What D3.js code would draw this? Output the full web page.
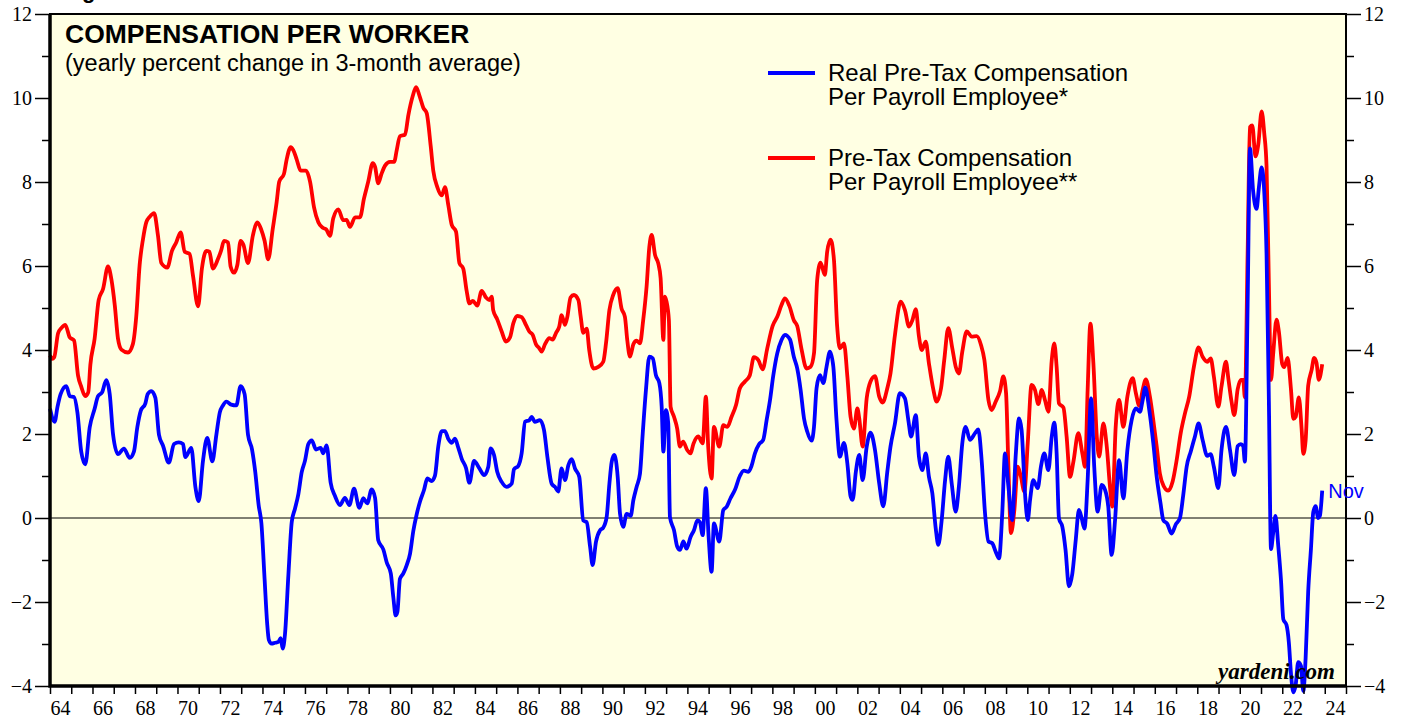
<!DOCTYPE html>
<html>
<head>
<meta charset="utf-8">
<script src="https://cdn.jsdelivr.net/npm/d3@7"></script>
<style>
  body { margin: 0; background: #fff; }
  svg { display: block; }
</style>
</head>
<body>
<div id="chart"></div>
<script>
// [decimal year, % y/y]
var realComp = [
  [1964.0,2.60],[1964.22,2.29],[1964.35,2.64],[1964.5,2.95],[1964.77,3.14],[1964.93,2.90],
  [1965.13,2.88],[1965.29,2.51],[1965.47,1.58],[1965.66,1.28],[1965.87,2.16],[1966.1,2.60],
  [1966.26,2.90],[1966.45,2.99],[1966.65,3.28],[1966.81,2.95],[1966.97,1.98],[1967.2,1.52],
  [1967.48,1.65],[1967.75,1.43],[1967.95,1.58],[1968.11,2.16],[1968.27,2.55],[1968.49,2.73],
  [1968.6,2.95],[1968.77,3.02],[1968.96,2.86],[1969.13,1.98],[1969.32,1.72],[1969.59,1.32],
  [1969.84,1.76],[1970.06,1.80],[1970.26,1.76],[1970.37,1.45],[1970.65,1.67],[1970.84,0.75],
  [1971.0,0.40],[1971.2,1.36],[1971.4,1.91],[1971.64,1.35],[1971.83,1.98],[1971.99,2.51],
  [1972.14,2.68],[1972.3,2.77],[1972.53,2.70],[1972.77,2.68],[1972.97,3.14],[1973.16,2.95],
  [1973.32,1.98],[1973.51,1.63],[1973.66,1.10],[1973.82,0.31],[1973.95,-0.13],[1974.1,-1.45],
  [1974.22,-2.5],[1974.3,-2.9],[1974.43,-2.99],[1974.59,-2.97],[1974.75,-2.95],[1974.86,-2.86],
  [1974.95,-3.11],[1975.06,-2.77],[1975.22,-1.36],[1975.38,-0.09],[1975.53,0.22],[1975.69,0.57],
  [1975.85,1.10],[1976.0,1.36],[1976.16,1.76],[1976.32,1.85],[1976.52,1.63],[1976.74,1.67],
  [1976.86,1.54],[1977.02,1.73],[1977.21,0.84],[1977.41,0.53],[1977.65,0.31],[1977.88,0.48],
  [1978.09,0.31],[1978.31,0.70],[1978.56,0.24],[1978.75,0.47],[1978.93,0.35],[1979.14,0.68],
  [1979.3,0.48],[1979.45,-0.53],[1979.69,-0.75],[1979.85,-1.06],[1980.04,-1.32],[1980.16,-1.89],
  [1980.27,-2.32],[1980.35,-2.24],[1980.47,-1.45],[1980.63,-1.32],[1980.79,-1.12],[1980.95,-0.84],
  [1981.1,-0.31],[1981.26,0.09],[1981.42,0.40],[1981.6,0.66],[1981.76,0.94],[1981.96,0.88],
  [1982.12,1.01],[1982.28,1.72],[1982.44,2.07],[1982.59,2.07],[1982.75,1.88],[1982.91,1.79],
  [1983.06,1.89],[1983.22,1.67],[1983.38,1.41],[1983.58,1.19],[1983.74,0.84],[1983.96,1.36],
  [1984.21,1.18],[1984.43,1.02],[1984.63,1.22],[1984.74,1.66],[1984.9,1.50],[1985.05,1.10],
  [1985.26,0.86],[1985.49,0.74],[1985.73,0.82],[1985.84,1.16],[1986.04,1.24],[1986.2,1.54],
  [1986.36,2.29],[1986.56,2.33],[1986.67,2.41],[1986.82,2.29],[1987.06,2.33],[1987.25,2.10],
  [1987.41,1.46],[1987.61,0.82],[1987.77,0.74],[1987.92,0.63],[1988.08,1.18],[1988.24,0.90],
  [1988.4,1.26],[1988.56,1.40],[1988.71,1.18],[1988.91,0.98],[1989.1,-0.06],[1989.26,-0.10],
  [1989.42,-0.68],[1989.54,-1.12],[1989.7,-0.56],[1989.89,-0.29],[1990.04,-0.23],[1990.2,0.02],
  [1990.33,0.82],[1990.44,1.34],[1990.56,1.50],[1990.72,0.98],[1990.83,0.10],[1990.98,-0.21],
  [1991.14,0.10],[1991.33,0.05],[1991.46,0.43],[1991.61,0.74],[1991.77,1.06],[1991.9,2.02],
  [1992.05,3.05],[1992.21,3.84],[1992.37,3.80],[1992.52,3.40],[1992.68,3.21],[1992.79,2.65],
  [1992.87,1.58],[1992.99,2.57],[1993.1,2.25],[1993.18,0.02],[1993.37,-0.29],[1993.52,-0.68],
  [1993.65,-0.76],[1993.81,-0.56],[1993.96,-0.73],[1994.15,-0.45],[1994.31,-0.29],[1994.47,-0.06],
  [1994.59,-0.10],[1994.72,-0.41],[1994.87,0.71],[1995.0,-0.45],[1995.14,-1.28],[1995.25,-0.13],
  [1995.5,-0.56],[1995.69,0.19],[1995.85,0.27],[1996.03,0.47],[1996.24,0.67],[1996.47,1.00],
  [1996.66,1.13],[1996.87,1.10],[1997.02,1.24],[1997.18,1.54],[1997.38,1.76],[1997.57,1.86],
  [1997.73,2.33],[1997.89,2.81],[1998.04,3.38],[1998.23,3.92],[1998.43,4.24],[1998.59,4.36],
  [1998.83,4.25],[1999.01,3.84],[1999.17,3.56],[1999.33,3.05],[1999.49,2.37],[1999.64,2.06],
  [1999.85,1.84],[1999.96,2.17],[2000.08,3.09],[2000.24,3.40],[2000.4,3.21],[2000.55,3.60],
  [2000.71,3.96],[2000.87,3.60],[2001.02,2.33],[2001.18,1.46],[2001.37,1.79],[2001.53,1.30],
  [2001.68,0.52],[2001.78,0.43],[2001.93,1.10],[2002.09,1.50],[2002.25,0.90],[2002.44,1.70],
  [2002.62,2.03],[2002.83,1.62],[2003.03,0.82],[2003.22,0.28],[2003.41,1.10],[2003.56,1.70],
  [2003.77,2.25],[2004.0,2.97],[2004.24,2.85],[2004.4,2.33],[2004.53,1.94],[2004.75,2.45],
  [2004.9,1.46],[2005.06,1.14],[2005.22,1.54],[2005.37,0.98],[2005.53,0.59],[2005.69,-0.25],
  [2005.81,-0.64],[2005.97,-0.05],[2006.13,0.90],[2006.28,1.46],[2006.44,0.83],[2006.63,0.15],
  [2006.78,0.75],[2006.94,1.78],[2007.1,2.17],[2007.3,1.86],[2007.54,2.02],[2007.69,2.11],
  [2007.85,1.38],[2008.01,0.11],[2008.17,-0.56],[2008.35,-0.60],[2008.51,-0.80],[2008.67,-0.96],
  [2008.82,0.11],[2008.95,1.54],[2009.11,0.75],[2009.29,-0.05],[2009.45,1.46],[2009.61,2.37],
  [2009.73,2.10],[2009.89,0.59],[2010.02,-0.05],[2010.13,0.43],[2010.28,0.90],[2010.49,0.71],
  [2010.64,1.22],[2010.8,1.54],[2010.99,1.14],[2011.15,1.94],[2011.27,2.27],[2011.38,1.54],
  [2011.49,-0.01],[2011.65,-0.21],[2011.8,-0.76],[2011.96,-1.63],[2012.12,-1.32],[2012.28,-0.52],
  [2012.43,0.19],[2012.56,-0.01],[2012.69,-0.25],[2012.84,0.90],[2013.0,2.85],[2013.15,1.22],
  [2013.31,0.15],[2013.5,0.79],[2013.66,0.67],[2013.81,0.27],[2013.97,-0.88],[2014.13,-0.05],
  [2014.32,1.38],[2014.52,0.47],[2014.71,1.62],[2014.91,2.33],[2015.11,2.61],[2015.3,2.53],
  [2015.43,2.81],[2015.55,3.11],[2015.74,2.57],[2015.93,1.78],[2016.09,0.98],[2016.27,0.35],
  [2016.4,-0.05],[2016.59,-0.14],[2016.79,-0.37],[2017.0,-0.14],[2017.18,-0.01],[2017.34,0.55],
  [2017.5,1.22],[2017.69,1.58],[2017.89,1.94],[2018.06,2.25],[2018.25,1.86],[2018.47,1.48],
  [2018.63,1.52],[2018.78,1.22],[2018.99,0.71],[2019.14,1.62],[2019.35,2.17],[2019.54,1.62],
  [2019.74,1.02],[2019.9,1.71],[2020.05,1.76],[2020.16,1.71],[2020.24,1.34],[2020.37,5.09],
  [2020.48,8.8],[2020.63,7.78],[2020.79,7.36],[2020.9,7.87],[2021.03,8.35],[2021.15,7.78],
  [2021.26,6.30],[2021.37,2.78],[2021.47,-0.74],[2021.57,-0.37],[2021.68,0.05],[2021.81,-0.65],
  [2021.94,-1.48],[2022.05,-2.41],[2022.2,-2.55],[2022.31,-2.96],[2022.41,-3.70],[2022.52,-4.15],
  [2022.63,-3.98],[2022.75,-3.43],[2022.88,-3.52],[2022.99,-4.12],[2023.1,-3.33],[2023.22,-1.76],
  [2023.35,-0.74],[2023.46,0.14],[2023.57,0.28],[2023.69,0.0],[2023.77,0.05],[2023.88,0.65]
];

var nominalComp = [
  [1964.0,3.87],[1964.1,3.79],[1964.2,3.83],[1964.38,4.40],[1964.53,4.52],[1964.72,4.60],
  [1964.93,4.30],[1965.13,4.23],[1965.32,3.39],[1965.47,3.13],[1965.66,2.90],[1965.8,2.99],
  [1965.9,3.65],[1966.1,4.27],[1966.29,5.19],[1966.5,5.46],[1966.73,5.99],[1966.89,5.68],
  [1967.05,5.06],[1967.2,4.27],[1967.36,4.01],[1967.67,3.94],[1967.9,4.14],[1968.06,4.80],
  [1968.22,6.03],[1968.38,6.65],[1968.53,7.04],[1968.69,7.17],[1968.9,7.26],[1969.08,6.73],
  [1969.24,6.07],[1969.52,5.96],[1969.74,6.36],[1969.94,6.56],[1970.15,6.80],[1970.34,6.34],
  [1970.57,6.29],[1970.73,5.77],[1970.97,5.04],[1971.15,5.94],[1971.36,6.36],[1971.5,6.34],
  [1971.67,5.94],[1971.9,6.16],[1972.06,6.38],[1972.19,6.60],[1972.38,6.56],[1972.5,5.99],
  [1972.66,5.84],[1972.82,6.03],[1972.97,6.60],[1973.1,6.51],[1973.32,6.07],[1973.55,6.73],
  [1973.76,7.04],[1973.94,6.87],[1974.1,6.6],[1974.27,6.16],[1974.48,6.87],[1974.67,7.53],
  [1974.79,8.01],[1975.01,8.19],[1975.14,8.54],[1975.33,8.83],[1975.45,8.76],[1975.61,8.54],
  [1975.8,8.27],[1976.05,8.27],[1976.24,8.01],[1976.43,7.39],[1976.63,7.04],[1976.84,6.91],
  [1977.0,6.87],[1977.18,6.72],[1977.33,7.13],[1977.57,7.35],[1977.8,7.09],[1977.96,7.10],
  [1978.12,6.93],[1978.36,7.16],[1978.59,7.16],[1978.78,7.61],[1978.98,8.01],[1979.19,8.45],
  [1979.3,8.36],[1979.45,7.97],[1979.6,8.19],[1979.77,8.39],[1980.0,8.48],[1980.2,8.48],
  [1980.32,8.76],[1980.47,9.09],[1980.71,9.13],[1980.87,9.60],[1981.07,10.04],[1981.23,10.26],
  [1981.4,10.04],[1981.57,9.77],[1981.73,9.64],[1981.92,8.85],[1982.04,8.27],[1982.23,7.88],
  [1982.44,7.68],[1982.59,7.88],[1982.75,7.44],[1982.91,6.98],[1983.11,6.82],[1983.27,6.07],
  [1983.45,5.94],[1983.61,5.41],[1983.74,5.11],[1983.9,5.17],[1984.11,5.06],[1984.32,5.41],
  [1984.52,5.25],[1984.68,5.19],[1984.79,5.27],[1984.86,4.95],[1985.05,4.73],[1985.26,4.44],
  [1985.46,4.20],[1985.65,4.30],[1985.81,4.64],[1986.0,4.81],[1986.2,4.78],[1986.4,4.60],
  [1986.56,4.44],[1986.72,4.36],[1986.87,4.14],[1987.03,4.04],[1987.14,3.96],[1987.3,4.14],
  [1987.5,4.28],[1987.66,4.25],[1987.82,4.41],[1987.97,4.56],[1988.08,4.83],[1988.24,4.60],
  [1988.35,4.79],[1988.5,5.25],[1988.66,5.31],[1988.87,5.19],[1988.98,4.79],[1989.1,4.41],
  [1989.26,4.51],[1989.38,4.00],[1989.57,3.56],[1989.81,3.60],[1990.04,3.72],[1990.17,4.16],
  [1990.33,4.95],[1990.51,5.31],[1990.72,5.47],[1990.9,4.99],[1991.06,4.79],[1991.17,4.24],
  [1991.3,3.84],[1991.46,4.14],[1991.61,4.22],[1991.77,4.16],[1991.92,4.71],[1992.08,5.51],
  [1992.21,6.46],[1992.32,6.74],[1992.48,6.26],[1992.63,6.06],[1992.74,5.71],[1992.87,4.24],
  [1992.94,5.27],[1993.02,5.15],[1993.13,4.71],[1993.21,2.65],[1993.37,2.41],[1993.52,2.13],
  [1993.65,1.70],[1993.8,1.82],[1993.99,1.62],[1994.15,1.54],[1994.28,1.76],[1994.51,1.94],
  [1994.72,1.78],[1994.87,2.89],[1994.98,1.70],[1995.14,0.94],[1995.25,2.17],[1995.5,1.70],
  [1995.69,2.21],[1995.88,2.17],[1996.08,2.41],[1996.29,2.69],[1996.47,3.09],[1996.71,3.25],
  [1996.94,3.40],[1997.13,3.83],[1997.34,3.76],[1997.54,3.54],[1997.76,4.04],[1998.01,4.57],
  [1998.23,4.79],[1998.43,5.07],[1998.59,5.23],[1998.8,5.05],[1999.01,4.71],[1999.17,4.57],
  [1999.38,4.00],[1999.61,3.56],[1999.8,3.60],[1999.96,3.92],[2000.11,5.67],[2000.27,6.08],
  [2000.47,5.79],[2000.58,6.34],[2000.74,6.63],[2000.9,6.14],[2001.05,4.56],[2001.18,4.04],
  [2001.37,4.16],[2001.53,3.37],[2001.68,2.41],[2001.84,2.13],[2002.0,2.61],[2002.09,2.37],
  [2002.25,1.70],[2002.44,2.85],[2002.62,3.25],[2002.83,3.38],[2003.03,2.89],[2003.19,2.75],
  [2003.41,3.09],[2003.56,3.44],[2003.77,4.36],[2004.04,5.15],[2004.24,4.95],[2004.43,4.56],
  [2004.59,4.71],[2004.75,4.97],[2004.9,4.32],[2005.03,4.00],[2005.22,4.20],[2005.37,3.68],
  [2005.58,3.05],[2005.73,2.77],[2005.94,3.09],[2006.09,3.76],[2006.28,4.52],[2006.47,4.04],
  [2006.63,3.60],[2006.78,3.44],[2006.94,3.96],[2007.15,4.44],[2007.38,4.32],[2007.62,4.33],
  [2007.82,4.12],[2007.98,3.76],[2008.17,2.81],[2008.32,2.57],[2008.51,2.77],[2008.71,3.01],
  [2008.87,3.37],[2009.0,2.97],[2009.11,1.22],[2009.23,-0.36],[2009.39,0.19],[2009.55,1.22],
  [2009.7,0.98],[2009.86,0.63],[2010.02,1.78],[2010.2,3.17],[2010.36,3.05],[2010.52,2.71],
  [2010.68,3.05],[2010.83,2.81],[2010.99,2.53],[2011.15,3.76],[2011.27,4.16],[2011.38,3.60],
  [2011.49,2.73],[2011.7,2.63],[2011.85,1.94],[2012.01,0.98],[2012.17,1.34],[2012.4,2.02],
  [2012.59,1.54],[2012.72,1.22],[2012.84,3.05],[2012.97,4.63],[2013.11,3.68],[2013.27,1.94],
  [2013.38,1.46],[2013.58,2.25],[2013.74,1.70],[2013.89,0.75],[2014.0,0.27],[2014.16,2.17],
  [2014.32,2.81],[2014.52,2.17],[2014.71,2.89],[2014.96,3.33],[2015.11,2.97],[2015.27,2.67],
  [2015.43,3.05],[2015.58,3.30],[2015.77,2.89],[2015.93,2.33],[2016.09,1.70],[2016.24,1.06],
  [2016.43,0.75],[2016.63,0.65],[2016.84,0.87],[2017.03,1.38],[2017.22,2.02],[2017.42,2.49],
  [2017.62,2.89],[2017.84,3.60],[2018.06,4.06],[2018.25,3.84],[2018.47,3.72],[2018.63,3.80],
  [2018.78,3.37],[2018.99,2.65],[2019.14,3.13],[2019.35,3.72],[2019.46,3.33],[2019.61,2.78],
  [2019.74,2.45],[2019.9,3.06],[2020.05,3.29],[2020.16,3.29],[2020.24,2.87],[2020.37,6.30],
  [2020.48,9.31],[2020.59,9.35],[2020.74,8.61],[2020.87,8.89],[2021.03,9.68],[2021.15,9.17],
  [2021.26,8.38],[2021.37,5.56],[2021.47,3.29],[2021.57,3.89],[2021.73,4.72],[2021.84,4.44],
  [2022.0,3.66],[2022.09,3.59],[2022.25,3.81],[2022.41,3.06],[2022.52,2.36],[2022.63,2.41],
  [2022.78,2.87],[2022.91,2.13],[2022.99,1.53],[2023.1,1.85],[2023.22,3.15],[2023.38,3.52],
  [2023.5,3.81],[2023.61,3.70],[2023.72,3.29],[2023.88,3.66]
];

var yearTicks = d3.range(1964, 2026);
var yearLabels = d3.range(1964, 2025, 2);
var valueTicks = d3.range(-4, 13, 2);
var minorValueTicks = d3.range(-3, 12, 2);

var legendItems = [
  {color: "#0000ff", lines: ["Real Pre-Tax Compensation", "Per Payroll Employee*"]},
  {color: "#ff0000", lines: ["Pre-Tax Compensation", "Per Payroll Employee**"]}
];

var width = 1405, height = 717;
var plotLeft = 50, plotRight = 1346, plotTop = 14, plotBottom = 686;
var sansFont = "'Liberation Sans', Arial, sans-serif";
var serifFont = "'Liberation Serif', 'Times New Roman', serif";

var x = d3.scaleLinear().domain([1964, 2025]).range([plotLeft, plotRight]);
var y = d3.scaleLinear().domain([-4, 12]).range([plotBottom, plotTop]);

var svg = d3.select("#chart").append("svg")
    .attr("width", width)
    .attr("height", height);

// heading above the chart, cropped off by the top edge
svg.append("text")
    .attr("x", 82).attr("y", -2)
    .attr("font-family", sansFont)
    .attr("font-weight", "bold")
    .attr("font-size", 22)
    .text("g");

// plot background
svg.append("rect")
    .attr("x", plotLeft).attr("y", plotTop)
    .attr("width", plotRight - plotLeft).attr("height", plotBottom - plotTop)
    .attr("fill", "#ffffe3");

// zero line
svg.append("line")
    .attr("x1", plotLeft).attr("x2", plotRight)
    .attr("y1", y(0)).attr("y2", y(0))
    .attr("stroke", "#000").attr("stroke-width", 1);

var line = d3.line()
    .x(function(d) { return x(d[0]); })
    .y(function(d) { return y(d[1]); })
    .curve(d3.curveMonotoneX);

svg.append("path")
    .datum(nominalComp)
    .attr("d", line)
    .attr("fill", "none")
    .attr("stroke", "#ff0000")
    .attr("stroke-width", 3.8)
    .attr("stroke-linejoin", "round");

svg.append("path")
    .datum(realComp)
    .attr("d", line)
    .attr("fill", "none")
    .attr("stroke", "#0000ff")
    .attr("stroke-width", 3.8)
    .attr("stroke-linejoin", "round");

// frame, heavier on the left and bottom
svg.append("rect")
    .attr("x", plotLeft).attr("y", plotTop)
    .attr("width", plotRight - plotLeft).attr("height", plotBottom - plotTop)
    .attr("fill", "none")
    .attr("stroke", "#000").attr("stroke-width", 2);
svg.append("path")
    .attr("d", "M" + plotLeft + "," + plotTop + "V" + plotBottom + "H" + plotRight)
    .attr("fill", "none")
    .attr("stroke", "#000").attr("stroke-width", 3.5);

// y axes: labelled even ticks, short odd ticks
function styleAxis(g) {
  g.select(".domain").remove();
  g.selectAll("line").attr("stroke", "#000").attr("stroke-width", 1.5);
  g.selectAll("text")
    .attr("font-family", serifFont)
    .attr("font-size", 20)
    .attr("fill", "#000");
}

svg.append("g")
    .attr("transform", "translate(" + plotLeft + ",0)")
    .call(d3.axisLeft(y).tickValues(valueTicks).tickSize(15).tickPadding(3))
    .call(styleAxis);
svg.append("g")
    .attr("transform", "translate(" + plotLeft + ",0)")
    .call(d3.axisLeft(y).tickValues(minorValueTicks).tickSize(8).tickFormat(""))
    .call(styleAxis);
svg.append("g")
    .attr("transform", "translate(" + plotRight + ",0)")
    .call(d3.axisRight(y).tickValues(valueTicks).tickSize(15).tickPadding(3))
    .call(styleAxis);
svg.append("g")
    .attr("transform", "translate(" + plotRight + ",0)")
    .call(d3.axisRight(y).tickValues(minorValueTicks).tickSize(8).tickFormat(""))
    .call(styleAxis);

// x axis: a tick every year, label centred on every other year
svg.append("g")
    .attr("transform", "translate(0," + plotBottom + ")")
    .call(d3.axisBottom(x).tickValues(yearTicks).tickSize(8).tickFormat(""))
    .call(styleAxis);

svg.append("g").selectAll("text")
    .data(yearLabels)
  .enter().append("text")
    .attr("x", function(d) { return x(d + 0.5); })
    .attr("y", plotBottom + 29)
    .attr("text-anchor", "middle")
    .attr("font-family", serifFont)
    .attr("font-size", 20)
    .text(function(d) { return String(d % 100).padStart(2, "0"); });

// titles
svg.append("text")
    .attr("x", 65).attr("y", 43)
    .attr("font-family", sansFont)
    .attr("font-weight", "bold")
    .attr("font-size", 26.5)
    .text("COMPENSATION PER WORKER");

svg.append("text")
    .attr("x", 65).attr("y", 71)
    .attr("font-family", sansFont)
    .attr("font-size", 23.5)
    .text("(yearly percent change in 3-month average)");

// legend
var legend = svg.selectAll(".legend")
    .data(legendItems)
  .enter().append("g")
    .attr("class", "legend")
    .attr("transform", function(d, i) { return "translate(768," + (73 + i * 85) + ")"; });

legend.append("line")
    .attr("x1", 0).attr("x2", 47)
    .attr("stroke", function(d) { return d.color; })
    .attr("stroke-width", 4);

legend.selectAll("text")
    .data(function(d) { return d.lines; })
  .enter().append("text")
    .attr("x", 60)
    .attr("y", function(d, i) { return 8 + i * 24; })
    .attr("font-family", sansFont)
    .attr("font-size", 24)
    .text(function(d) { return d; });

// last observation label
var last = realComp[realComp.length - 1];
svg.append("text")
    .attr("x", x(last[0]) + 6)
    .attr("y", y(last[1]) + 7)
    .attr("font-family", sansFont)
    .attr("font-size", 20)
    .attr("fill", "#0000ff")
    .text("Nov");

svg.append("text")
    .attr("x", 1335).attr("y", 679)
    .attr("text-anchor", "end")
    .attr("font-family", serifFont)
    .attr("font-weight", "bold")
    .attr("font-style", "italic")
    .attr("font-size", 23)
    .text("yardeni.com");
</script>
</body>
</html>
